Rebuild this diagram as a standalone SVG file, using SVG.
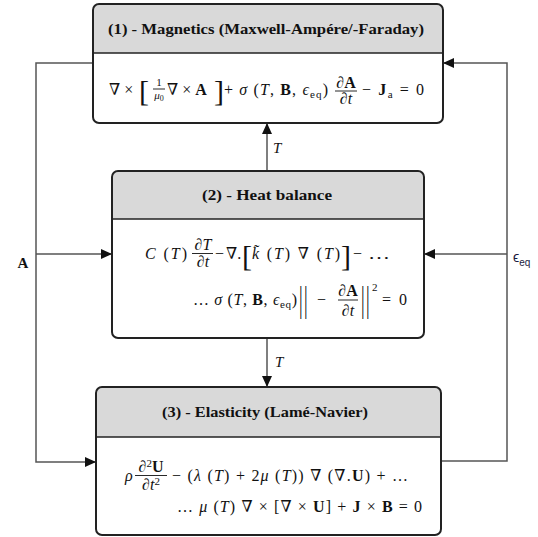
<svg xmlns="http://www.w3.org/2000/svg" width="538" height="537" viewBox="0 0 538 537" font-family="Liberation Serif, DejaVu Serif, serif">
<defs>
<style>
.hdr{fill:#d9d9d9;stroke:none}
.body{fill:#fff;stroke:none}
.out{fill:none;stroke:#222;stroke-width:2}
.div{stroke:#222;stroke-width:1.6}
.conn{fill:none;stroke:#555;stroke-width:1.5}
.title{font-weight:bold;font-size:15px;text-anchor:middle;fill:#111}
.m{font-size:16px;fill:#111}
.s{font-size:11px}
.i{font-style:italic}
.b{font-weight:bold}
.c{text-anchor:middle}
.big{font-size:30px;fill:#111}
.nrm{font-size:18px;fill:#111;letter-spacing:1.5px}
.bar{stroke:#111;stroke-width:0.9}
.sans{font-family:'Liberation Sans','DejaVu Sans',sans-serif;fill:#1a1a40}
</style>
<marker id="ah" markerWidth="11" markerHeight="10" refX="11" refY="5" orient="auto" markerUnits="userSpaceOnUse"><path d="M0,0 L11,5 L0,10 z" fill="#111"/></marker>
</defs>

<g id="connectors">
<path class="conn" d="M93,63 H36 V462 H96" marker-end="url(#ah)"/>
<path class="conn" d="M36,254 H112" marker-end="url(#ah)"/>
<path class="conn" d="M441,461 H507 V63 H443" marker-end="url(#ah)"/>
<path class="conn" d="M507,254 H424" marker-end="url(#ah)"/>
<path class="conn" d="M267,171 V123" marker-end="url(#ah)"/>
<path class="conn" d="M267,338 V387" marker-end="url(#ah)"/>
<text x="23" y="268" class="m b c" style="font-size:15px">A</text>
<text x="513" y="262" class="sans" style="font-size:14px">ϵ<tspan style="font-size:10px" dy="4">eq</tspan></text>
<text x="273" y="153" class="m i" style="font-size:15px">T</text>
<text x="275" y="367" class="m i" style="font-size:15px">T</text>
</g>

<g id="node1">
<path class="hdr" d="M99,4 H437 A6,6 0 0 1 443,10 V53 H93 V10 A6,6 0 0 1 99,4 Z"/>
<path class="body" d="M93,53 H443 V117 A6,6 0 0 1 437,123 H99 A6,6 0 0 1 93,117 Z"/>
<rect class="out" x="93" y="4" width="350" height="119" rx="6"/>
<line class="div" x1="93" y1="53" x2="443" y2="53"/>
<text class="title" x="266" y="34" textLength="316" lengthAdjust="spacingAndGlyphs">(1) - Magnetics (Maxwell-Ampére/-Faraday)</text>
<text class="m" x="109" y="95">∇ ×</text>
<text class="big" x="139" y="101">[</text>
<text class="m s c" x="159" y="86">1</text>
<line class="bar" x1="153" y1="89" x2="165" y2="89"/>
<text class="m s c i" x="159" y="99">μ<tspan font-style="normal" font-size="8" dy="2">0</tspan></text>
<text class="m" x="167" y="95">∇ × <tspan class="b">A</tspan></text>
<text class="big" x="214" y="101">]</text>
<text class="m" x="224" y="95" textLength="104" lengthAdjust="spacing">+ <tspan class="i">σ</tspan> (<tspan class="i">T</tspan>, <tspan class="b">B</tspan>, <tspan class="i">ϵ</tspan><tspan class="s" dy="3">eq</tspan><tspan dy="-3">)</tspan></text>
<text class="m c" x="346" y="88">∂<tspan class="b">A</tspan></text>
<line class="bar" x1="335" y1="91" x2="357" y2="91"/>
<text class="m c" x="346" y="104">∂<tspan class="i">t</tspan></text>
<text class="m" x="362" y="95" textLength="62" lengthAdjust="spacing">− <tspan class="b">J</tspan><tspan class="s" dy="3">a</tspan><tspan dy="-3"> = 0</tspan></text>
</g>

<g id="node2">
<path class="hdr" d="M118,171 H418 A6,6 0 0 1 424,177 V219 H112 V177 A6,6 0 0 1 118,171 Z"/>
<path class="body" d="M112,219 H424 V332 A6,6 0 0 1 418,338 H118 A6,6 0 0 1 112,332 Z"/>
<rect class="out" x="112" y="171" width="312" height="167" rx="6"/>
<line class="div" x1="112" y1="219" x2="424" y2="219"/>
<text class="title" x="267" y="200" textLength="130" lengthAdjust="spacingAndGlyphs">(2) - Heat balance</text>
<text class="m" x="145" y="259" textLength="42" lengthAdjust="spacing"><tspan class="i">C</tspan> (<tspan class="i">T</tspan>)</text>
<text class="m c" x="203" y="250">∂<tspan class="i">T</tspan></text>
<line class="bar" x1="192" y1="253.5" x2="213" y2="253.5"/>
<text class="m c" x="203" y="267">∂<tspan class="i">t</tspan></text>
<text class="m" x="215" y="259">−</text>
<text class="m" x="226" y="259">∇.</text>
<text class="big" x="242" y="266">[</text>
<text class="m" x="252" y="259" textLength="88" lengthAdjust="spacing"><tspan class="i">k̃</tspan> (<tspan class="i">T</tspan>) ∇ (<tspan class="i">T</tspan>)</text>
<text class="big" x="341" y="266">]</text>
<text class="m" x="353" y="259">−</text>
<text class="m" x="368" y="259" textLength="22" lengthAdjust="spacingAndGlyphs">…</text>
<text class="m" x="193" y="305" textLength="104" lengthAdjust="spacing">… <tspan class="i">σ</tspan> (<tspan class="i">T</tspan>, <tspan class="b">B</tspan>, <tspan class="i">ϵ</tspan><tspan class="s" dy="3">eq</tspan><tspan dy="-3">)</tspan></text>
<text class="nrm" transform="translate(299,311) scale(1,2)">||</text>
<text class="m" x="317" y="305">−</text>
<text class="m c" x="348" y="296">∂<tspan class="b">A</tspan></text>
<line class="bar" x1="338" y1="300" x2="358" y2="300"/>
<text class="m c" x="348" y="316">∂<tspan class="i">t</tspan></text>
<text class="nrm" transform="translate(361,311) scale(1,2)">||</text>
<text class="m s" x="372" y="291">2</text>
<text class="m" x="382" y="305" textLength="25" lengthAdjust="spacing">= 0</text>
</g>

<g id="node3">
<path class="hdr" d="M102,387 H435 A6,6 0 0 1 441,393 V437 H96 V393 A6,6 0 0 1 102,387 Z"/>
<path class="body" d="M96,437 H441 V529 A6,6 0 0 1 435,535 H102 A6,6 0 0 1 96,529 Z"/>
<rect class="out" x="96" y="387" width="345" height="148" rx="6"/>
<line class="div" x1="96" y1="437" x2="441" y2="437"/>
<text class="title" x="265" y="417" textLength="206" lengthAdjust="spacingAndGlyphs">(3) - Elasticity (Lamé-Navier)</text>
<text class="m i" x="125" y="481">ρ</text>
<text class="m c" x="151" y="472">∂<tspan class="s" dy="-5">2</tspan><tspan class="b" dy="5">U</tspan></text>
<line class="bar" x1="135" y1="475.5" x2="167" y2="475.5"/>
<text class="m c" x="151" y="490">∂<tspan class="i">t</tspan><tspan class="s" dy="-5">2</tspan></text>
<text class="m" x="172" y="481" textLength="236" lengthAdjust="spacing">− (<tspan class="i">λ</tspan> (<tspan class="i">T</tspan>) + 2<tspan class="i">μ</tspan> (<tspan class="i">T</tspan>)) ∇ (∇.<tspan class="b">U</tspan>) + …</text>
<text class="m" x="177" y="512" textLength="245" lengthAdjust="spacing">… <tspan class="i">μ</tspan> (<tspan class="i">T</tspan>) ∇ × [∇ × <tspan class="b">U</tspan>] + <tspan class="b">J</tspan> × <tspan class="b">B</tspan> = 0</text>
</g>
</svg>
